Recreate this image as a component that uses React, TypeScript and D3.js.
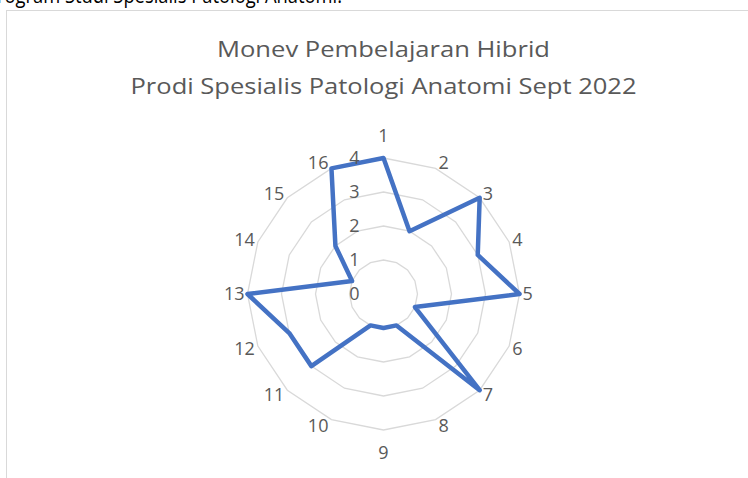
import * as d3 from "d3";
import React from "react";

const categories = ["1", "2", "3", "4", "5", "6", "7", "8", "9", "10", "11", "12", "13", "14", "15", "16"];
const values = [4, 2, 4, 3, 4, 1, 4, 1, 1, 1, 3, 3, 4, 1, 2, 4];
const ticks = [0, 1, 2, 3, 4];
const titleLines = ["Monev Pembelajaran Hibrid", "Prodi Spesialis Patologi Anatomi Sept 2022"];
const headerText = "Program Studi Spesialis Patologi Anatomi.";

const W = 748;
const H = 478;
const cx = 383.5;
const cy = 294;
const R = 136;
const font = "'Open Sans', 'Noto Sans', sans-serif";
const grey = "#595959";

const App: React.FC = () => {
  const r = d3.scaleLinear().domain([0, 4]).range([0, R]);
  const angle = d3
    .scaleLinear()
    .domain([0, categories.length])
    .range([0, 2 * Math.PI]);

  const pt = (i: number, v: number): [number, number] => {
    const a = angle(i);
    return [cx + r(v) * Math.sin(a), cy - r(v) * Math.cos(a)];
  };

  const ring = (v: number) =>
    d3.line()(categories.map((_, i) => pt(i, v))) + "Z";

  const seriesPath =
    d3.line()(values.map((v, i) => pt(i, v))) + "Z";

  // title widths
  const titleWidths = [333, 506];

  return (
    <div style={{ position: "fixed", left: 0, top: 0 }}>
      <svg width={W} height={H} style={{ display: "block" }}>
        <rect width={W} height={H} fill="#fff" />
        {/* page text above the chart, cut off at the top in the screenshot */}
        <text x={-14} y={3} fontFamily={font} fontSize={22} fill="#000" textLength={356} lengthAdjust="spacingAndGlyphs">
          {headerText}
        </text>
        <rect x={6.5} y={10.5} width={800} height={600} fill="none" stroke="#d9d9d9" strokeWidth={1} />

        {titleLines.map((t, i) => (
          <text
            key={t}
            x={cx - titleWidths[i] / 2}
            y={57 + i * 37}
            fontFamily={font}
            fontSize={22}
            fill={grey}
            textLength={titleWidths[i]}
            lengthAdjust="spacingAndGlyphs"
          >
            {t}
          </text>
        ))}

        {ticks.slice(1).map((v) => (
          <path key={v} d={ring(v)} fill="none" stroke="#d9d9d9" strokeWidth={1.3} />
        ))}

        <path d={seriesPath} fill="none" stroke="#4472C4" strokeWidth={4.5} strokeLinejoin="round" />

        {ticks.map((v) => (
          <text key={v} x={cx - 24} y={cy - r(v) + 6.4} textAnchor="end" fontFamily={font} fontSize={18} fill={grey}>
            {v}
          </text>
        ))}

        {categories.map((c, i) => {
          const a = angle(i);
          const [px, py] = pt(i, 4);
          const s = Math.sin(a);
          const co = Math.cos(a);
          let x = px;
          let y = py;
          let anchor = "middle";
          if (Math.abs(s) < 0.1) {
            y = py - Math.sign(co) * 22.5;
          } else {
            x = px + Math.sign(s) * 3;
            y = py - co * 6;
            anchor = s > 0 ? "start" : "end";
          }
          return (
            <text key={c} x={x} y={y + 6.4} textAnchor={anchor} fontFamily={font} fontSize={18} fill={grey}>
              {c}
            </text>
          );
        })}
      </svg>
    </div>
  );
};

export default App;
